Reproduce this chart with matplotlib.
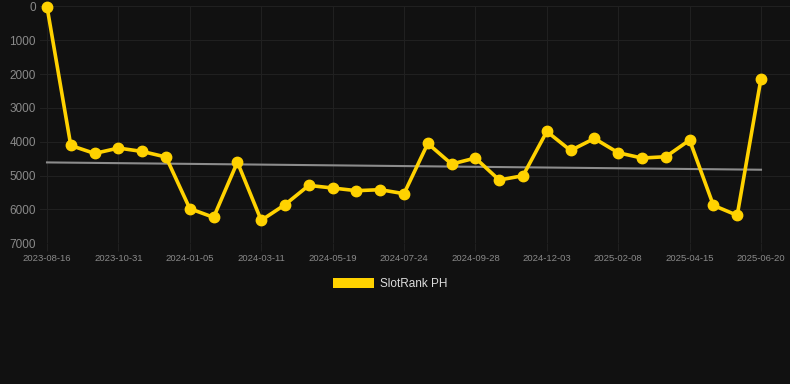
import numpy as np
import matplotlib
matplotlib.use('Agg')
import matplotlib.pyplot as plt

plt.rcParams['font.family'] = ['Liberation Sans', 'DejaVu Sans']

# rank per sample date (lower is better, axis inverted)
dates = ['2023-08-16', '2023-09-10', '2023-10-05', '2023-10-31', '2023-11-22', '2023-12-14',
         '2024-01-05', '2024-01-27', '2024-02-18', '2024-03-11', '2024-04-03', '2024-04-26',
         '2024-05-19', '2024-06-10', '2024-07-02', '2024-07-24', '2024-08-15', '2024-09-06',
         '2024-09-28', '2024-10-20', '2024-11-11', '2024-12-03', '2024-12-25', '2025-01-17',
         '2025-02-08', '2025-03-02', '2025-03-24', '2025-04-15', '2025-05-07', '2025-05-29',
         '2025-06-20']
ranks = [10, 4110, 4345, 4186, 4286, 4451, 5976, 6233, 4600, 6322, 5858, 5289, 5366, 5445,
         5416, 5534, 4050, 4658, 4481, 5130, 5003, 3696, 4257, 3903, 4324, 4481, 4442, 3950,
         5879, 6174, 2133]
trend_ends = [4610, 4826]
y_ticks = [0, 1000, 2000, 3000, 4000, 5000, 6000, 7000]
series_name = 'SlotRank PH'

BG = '#111111'
GOLD = '#FFD200'
GRID = '#202020'
TICK = '#8a8a8a'

fig = plt.figure(figsize=(7.9, 3.84), dpi=100, facecolor=BG)
ax = fig.add_axes([40 / 790, 1 - 243.3 / 384, 750 / 790, (243.3 - 6.4) / 384])
ax.set_facecolor(BG)

x = np.arange(len(ranks))
ax.plot([x[0], x[-1]], trend_ends, color='#8c8c8c', lw=1.5, zorder=2)
ax.plot(x, ranks, color=GOLD, lw=2.6, marker='o', ms=7.5, zorder=3, clip_on=False)

px = 23.8
ax.set_xlim(-7 / px, x[-1] + 29 / px)
ax.set_ylim(7000, 0)
ax.set_yticks(y_ticks)
ax.set_yticklabels([str(v) for v in y_ticks])
ax.set_xticks(x[::3])
ax.set_xticklabels(dates[::3])
ax.grid(True, color=GRID, lw=0.8)
ax.set_axisbelow(True)
for s in ax.spines.values():
    s.set_visible(False)
ax.tick_params(axis='y', length=0, pad=3, labelsize=8.5, labelcolor=TICK)
ax.tick_params(axis='x', length=6, color=GRID, pad=2, labelsize=6.8, labelcolor=TICK)

fig.legend([plt.Rectangle((0, 0), 1, 1, fc=GOLD, ec='none')], [series_name],
           loc='center', bbox_to_anchor=(390 / 790, 1 - 284 / 384), frameon=False,
           handlelength=3.5, handleheight=1.0, handletextpad=0.5,
           fontsize=8.5, labelcolor='#dddddd')

fig.savefig('out.png', dpi=100, facecolor=BG)
